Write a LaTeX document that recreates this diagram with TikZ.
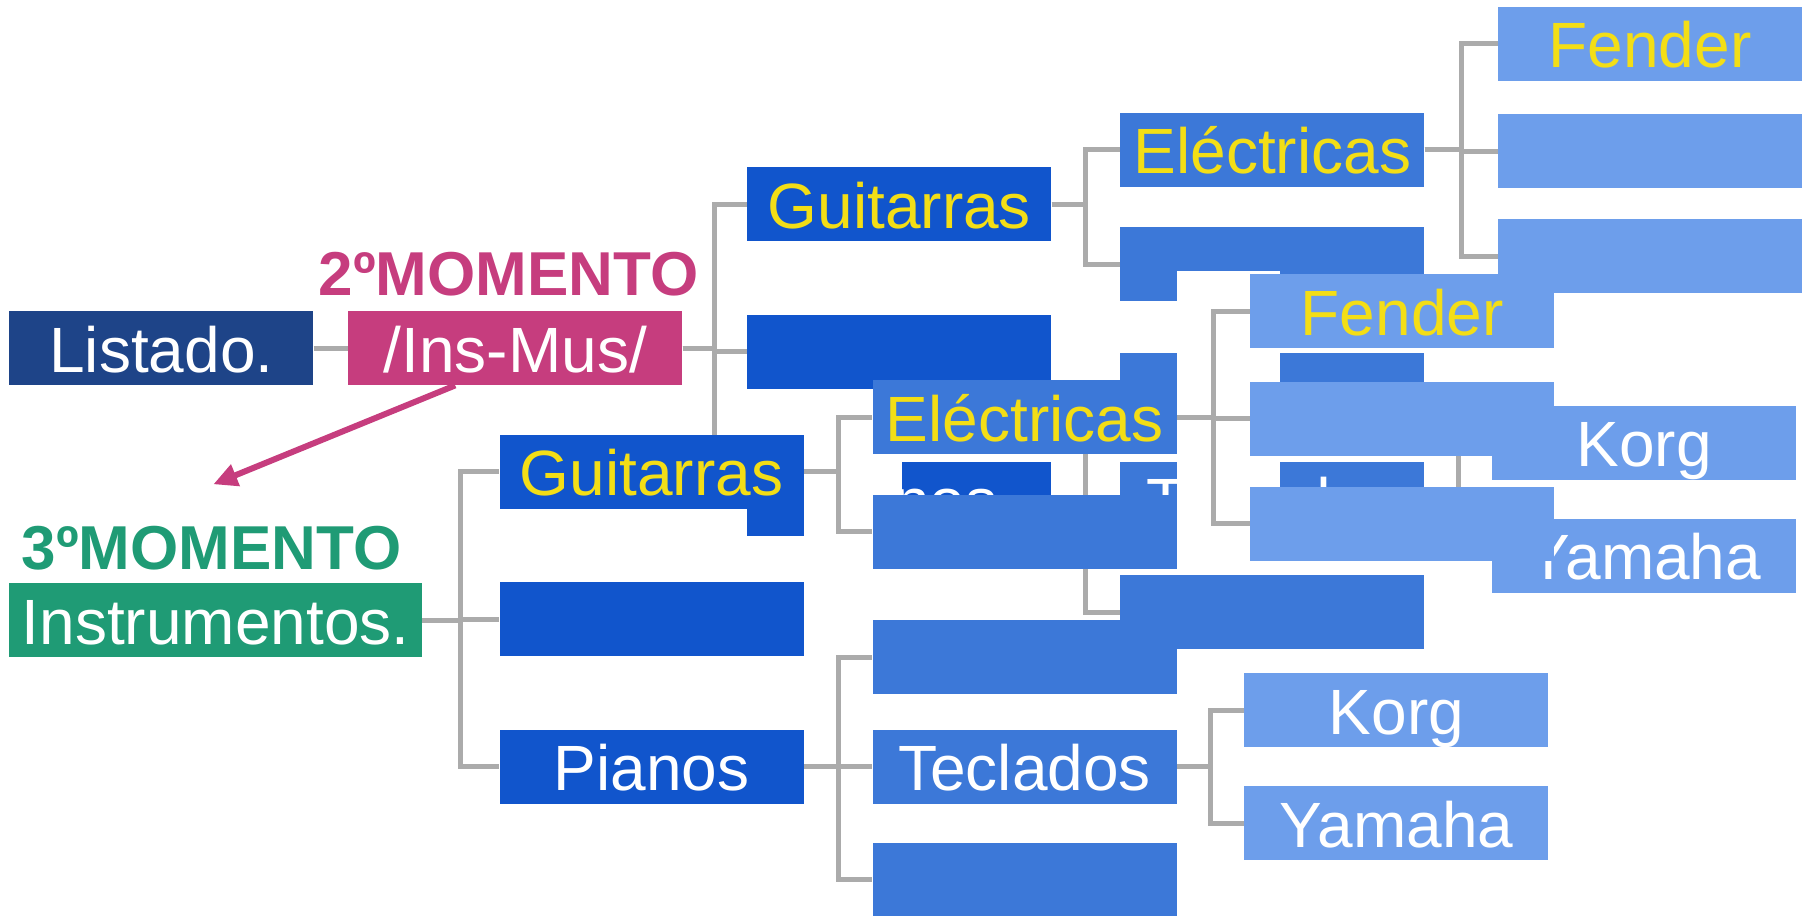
\documentclass[tikz,border=0pt]{standalone}
\usepackage{fontspec}
\setmainfont{Liberation Sans}
\usetikzlibrary{positioning}
\usetikzlibrary{calc}
\usetikzlibrary{arrows.meta}

\definecolor{listblue}{HTML}{1E4488}
\definecolor{mompink}{HTML}{C63D7E}
\definecolor{momgreen}{HTML}{1F9B75}
\definecolor{lvone}{HTML}{1155CC}
\definecolor{lvtwo}{HTML}{3C78D8}
\definecolor{lvthree}{HTML}{6D9EEB}
\definecolor{txtyellow}{HTML}{F3DE16}
\definecolor{linkgray}{HTML}{ABABAB}

\pgfdeclarelayer{uplines}
\pgfdeclarelayer{upboxes}
\pgfdeclarelayer{lolines}
\pgfdeclarelayer{loboxes}
\pgfsetlayers{uplines,upboxes,lolines,loboxes,main}

\tikzset{
  box/.style={fill=#1, text=white, font=\fontsize{64}{70}\selectfont,
    minimum width=304pt, inner xsep=0pt, inner ysep=0pt,
    text height=61pt, text depth=13pt},
  yel/.style={text=txtyellow},
  momlabel/.style={font=\fontsize{62}{68}\selectfont\bfseries, anchor=base, inner sep=0pt},
  link/.style={draw=linkgray, line width=5pt},
  gap/.style={fill=white},
}

\newcommand\branch[2]{%
  \begin{pgfonlayer}{#1}
    \node[box=lvone, yel] (guit) at (651.5,471.6) {Guitarras};
    \node[box=lvone] (gblk) at (651.5,619.2) {};
    \node[box=lvone] (pian) at (651.5,766.8) {Pianos};
    \node[box=lvtwo, yel] (elec) at (1024.5,417.4) {Eléctricas};
    \node[box=lvtwo] (eblk) at (1024.5,531.6) {};
    \node[box=lvtwo] (pblk) at (1024.5,657.3) {};
    \node[box=lvtwo] (tecl) at (1024.5,766.8) {Teclados};
    \node[box=lvtwo] (tblk) at (1024.5,879.8) {};
    \node[box=lvthree, yel] (fend) at (1402.2,311.3) {Fender};
    \node[box=lvthree] (fblka) at (1402.2,418.6) {};
    \node[box=lvthree] (fblkb) at (1402.2,523.5) {};
    \node[box=lvthree] (korg) at (1396.4,710.3) {Korg};
    \node[box=lvthree] (yama) at (1396.4,823.3) {Yamaha};
  \end{pgfonlayer}
  \begin{pgfonlayer}{#2}
    \fill[gap] ($(guit.east |- elec.north)+(0,9)$) rectangle ([xshift=30pt]eblk.south west);
    \fill[gap] (pian.east |- pblk.north) rectangle ([xshift=30pt]tblk.south west);
    \fill[gap] ($(elec.east |- fend.north)+(0,-3)$) rectangle ([xshift=30pt]fblkb.south west);
    \fill[gap] (tecl.east |- korg.north) rectangle ([xshift=30pt]yama.south west);
    \foreach \k in {elec,eblk}
      \draw[link] (guit.east) -| ($(guit.east)!.5!(\k.west)$) |- (\k.west);
    \foreach \k in {pblk,tecl,tblk}
      \draw[link] (pian.east) -| ($(pian.east)!.5!(\k.west)$) |- (\k.west);
    \foreach \k in {fend,fblka,fblkb}
      \draw[link] (elec.east) -| ($(elec.east)!.5!(\k.west)$) |- (\k.west);
    \foreach \k in {korg,yama}
      \draw[link] (tecl.east) -| ($(tecl.east)!.5!(\k.west)$) |- (\k.west);
  \end{pgfonlayer}
}

\begin{document}
\begin{tikzpicture}[x=1pt, y=-1pt]
  \useasboundingbox (0,0) rectangle (1808,916);

  \begin{scope}[shift={(247.9,-267.5)}, name prefix=up-]
    \branch{upboxes}{uplines}
  \end{scope}
  \begin{scope}[name prefix=lo-]
    \branch{loboxes}{lolines}
  \end{scope}

  \node[box=listblue] (list) at (161.4,348.2) {Listado.};
  \node[box=mompink, minimum width=334pt] (insmus) at (515.4,348.2) {/Ins-Mus/};
  \node[momlabel, text=mompink] (momtwo) at (508.5,295.2) {2ºMOMENTO};
  \node[box=momgreen, minimum width=413pt] (instr) at (215.6,620.4) {Instrumentos.};
  \node[momlabel, text=momgreen] (momthree) at (211.6,569.6) {3ºMOMENTO};
  \coordinate (tipend) at (213.3,484.3);

  \begin{pgfonlayer}{uplines}
    \draw[link] (list.east) -- (insmus.west);
    \foreach \k in {up-guit,up-gblk,up-pian}
      \draw[link] (insmus.east) -| ($(insmus.east)!.5!(\k.west)$) |- (\k.west);
  \end{pgfonlayer}
  \begin{pgfonlayer}{lolines}
    \foreach \k in {lo-guit,lo-gblk,lo-pian}
      \draw[link] (instr.east) -| ($(instr.east)!.5!(\k.west)$) |- (\k.west);
  \end{pgfonlayer}

  \draw[mompink, line width=6pt, -{Triangle[length=24pt,width=22pt]}]
    ([xshift=107pt]insmus.south west) -- (tipend);
\end{tikzpicture}
\end{document}
